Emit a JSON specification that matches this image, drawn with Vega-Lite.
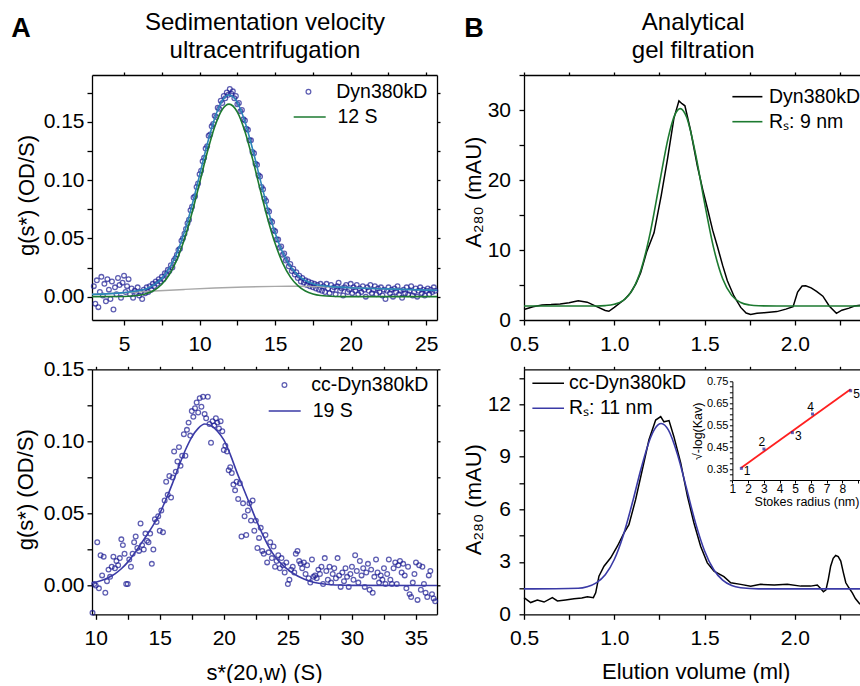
{
"$schema":"https://vega.github.io/schema/vega-lite/v6.json",
"padding":{"left":10,"top":10,"right":0,"bottom":0},
"bounds":"flush",
"columns":2,
"spacing":{"row":49.3,"column":87},
"config":{
 "font":"Liberation Sans",
 "view":{"stroke":null},
 "axis":{"grid":false,"domainColor":"#000","domainWidth":1.3,"tickColor":"#000","tickWidth":1.3,"tickSize":5,"labelColor":"#000","labelFontSize":21,"labelFlush":false,"labelOverlap":false,"labelPadding":3,"titleColor":"#000","titleFontSize":22,"titleFontWeight":"normal"},
 "legend":{"labelColor":"#000","labelFontSize":19.5,"padding":0}
},
"resolve":{"scale":{"color":"independent"},"legend":{"color":"independent"}},
"concat":[
 {"width":345,"height":245,
  "layer":[
   {"data":{"values":[
{"s":3.0,"g":0.009},{"s":3.1,"g":-0.006},{"s":3.2,"g":0.014},{"s":3.3,"g":-0.009},{"s":3.4,"g":0.004},{"s":3.5,"g":0.017},{"s":3.6,"g":0.001},{"s":3.7,"g":0.011},{"s":3.8,"g":-0.004},{"s":3.9,"g":0.015},
{"s":4.0,"g":0.006},{"s":4.1,"g":-0.002},{"s":4.2,"g":0.013},{"s":4.3,"g":-0.011},{"s":4.4,"g":0.008},{"s":4.5,"g":0.002},{"s":4.6,"g":0.016},{"s":4.7,"g":0.010},{"s":4.8,"g":-0.001},{"s":4.9,"g":0.012},
{"s":5.0,"g":0.018},{"s":5.1,"g":0.004},{"s":5.2,"g":0.009},{"s":5.3,"g":0.015},{"s":5.4,"g":0.002},{"s":5.5,"g":0.007},{"s":5.6,"g":-0.001},{"s":5.7,"g":0.005},{"s":5.8,"g":0.003},{"s":5.9,"g":0.008},
{"s":6.0,"g":0.001},{"s":6.1,"g":0.004},{"s":6.2,"g":-0.002},{"s":6.3,"g":0.006},{"s":6.4,"g":0.003},{"s":6.5,"g":0.008},{"s":6.6,"g":0.004},{"s":6.7,"g":0.009},{"s":6.8,"g":0.006},{"s":6.9,"g":0.011},
{"s":7.0,"g":0.009},{"s":7.1,"g":0.013},{"s":7.2,"g":0.011},{"s":7.3,"g":0.015},{"s":7.4,"g":0.013},{"s":7.5,"g":0.017},{"s":7.6,"g":0.015},{"s":7.7,"g":0.020},{"s":7.8,"g":0.019},{"s":7.9,"g":0.023},
{"s":8.0,"g":0.022},{"s":8.1,"g":0.027},{"s":8.2,"g":0.025},{"s":8.3,"g":0.031},{"s":8.4,"g":0.033},{"s":8.5,"g":0.036},{"s":8.6,"g":0.040},{"s":8.7,"g":0.041},{"s":8.8,"g":0.048},{"s":8.9,"g":0.050},
{"s":9.0,"g":0.054},{"s":9.1,"g":0.058},{"s":9.2,"g":0.063},{"s":9.3,"g":0.066},{"s":9.4,"g":0.074},{"s":9.5,"g":0.077},{"s":9.6,"g":0.085},{"s":9.7,"g":0.086},{"s":9.8,"g":0.094},{"s":9.9,"g":0.097},
{"s":10.0,"g":0.105},{"s":10.1,"g":0.108},{"s":10.2,"g":0.116},{"s":10.3,"g":0.119},{"s":10.4,"g":0.127},{"s":10.5,"g":0.129},{"s":10.6,"g":0.138},{"s":10.7,"g":0.139},{"s":10.8,"g":0.146},{"s":10.9,"g":0.148},
{"s":11.0,"g":0.155},{"s":11.1,"g":0.154},{"s":11.2,"g":0.162},{"s":11.3,"g":0.161},{"s":11.4,"g":0.168},{"s":11.5,"g":0.166},{"s":11.6,"g":0.172},{"s":11.7,"g":0.170},{"s":11.8,"g":0.175},{"s":11.9,"g":0.173},
{"s":12.0,"g":0.178},{"s":12.1,"g":0.174},{"s":12.2,"g":0.176},{"s":12.3,"g":0.170},{"s":12.4,"g":0.172},{"s":12.5,"g":0.165},{"s":12.6,"g":0.166},{"s":12.7,"g":0.159},{"s":12.8,"g":0.160},{"s":12.9,"g":0.152},
{"s":13.0,"g":0.151},{"s":13.1,"g":0.144},{"s":13.2,"g":0.143},{"s":13.3,"g":0.134},{"s":13.4,"g":0.134},{"s":13.5,"g":0.124},{"s":13.6,"g":0.123},{"s":13.7,"g":0.114},{"s":13.8,"g":0.113},{"s":13.9,"g":0.104},
{"s":14.0,"g":0.103},{"s":14.1,"g":0.094},{"s":14.2,"g":0.092},{"s":14.3,"g":0.084},{"s":14.4,"g":0.082},{"s":14.5,"g":0.074},{"s":14.6,"g":0.073},{"s":14.7,"g":0.065},{"s":14.8,"g":0.064},{"s":14.9,"g":0.057},
{"s":15.0,"g":0.056},{"s":15.1,"g":0.049},{"s":15.2,"g":0.049},{"s":15.3,"g":0.042},{"s":15.4,"g":0.043},{"s":15.5,"g":0.036},{"s":15.6,"g":0.037},{"s":15.7,"g":0.031},{"s":15.8,"g":0.032},{"s":15.9,"g":0.026},
{"s":16.0,"g":0.028},{"s":16.1,"g":0.022},{"s":16.2,"g":0.024},{"s":16.3,"g":0.019},{"s":16.4,"g":0.021},{"s":16.5,"g":0.016},{"s":16.6,"g":0.018},{"s":16.7,"g":0.013},{"s":16.8,"g":0.016},{"s":16.9,"g":0.012},
{"s":17.0,"g":0.014},{"s":17.1,"g":0.010},{"s":17.2,"g":0.013},{"s":17.3,"g":0.009},{"s":17.4,"g":0.012},{"s":17.5,"g":0.008},{"s":17.6,"g":0.011},{"s":17.7,"g":0.007},{"s":17.8,"g":0.010},{"s":17.9,"g":0.006},
{"s":18.0,"g":0.011},{"s":18.1,"g":0.005},{"s":18.2,"g":0.009},{"s":18.3,"g":0.004},{"s":18.4,"g":0.011},{"s":18.5,"g":0.007},{"s":18.6,"g":0.003},{"s":18.7,"g":0.010},{"s":18.8,"g":0.006},{"s":18.9,"g":0.008},
{"s":19.0,"g":0.002},{"s":19.1,"g":0.009},{"s":19.2,"g":0.012},{"s":19.3,"g":0.005},{"s":19.4,"g":0.007},{"s":19.5,"g":0.001},{"s":19.6,"g":0.008},{"s":19.7,"g":0.010},{"s":19.8,"g":0.004},{"s":19.9,"g":0.006},
{"s":20.0,"g":0.011},{"s":20.1,"g":0.003},{"s":20.2,"g":0.008},{"s":20.3,"g":0.005},{"s":20.4,"g":0.010},{"s":20.5,"g":0.002},{"s":20.6,"g":0.007},{"s":20.7,"g":0.004},{"s":20.8,"g":0.009},{"s":20.9,"g":0.006},
{"s":21.0,"g":0.000},{"s":21.1,"g":0.008},{"s":21.2,"g":0.005},{"s":21.3,"g":0.010},{"s":21.4,"g":0.003},{"s":21.5,"g":0.006},{"s":21.6,"g":0.009},{"s":21.7,"g":0.002},{"s":21.8,"g":0.007},{"s":21.9,"g":0.004},
{"s":22.0,"g":0.008},{"s":22.1,"g":0.001},{"s":22.2,"g":0.006},{"s":22.3,"g":-0.002},{"s":22.4,"g":0.005},{"s":22.5,"g":0.008},{"s":22.6,"g":0.003},{"s":22.7,"g":0.006},{"s":22.8,"g":0.000},{"s":22.9,"g":0.007},
{"s":23.0,"g":0.004},{"s":23.1,"g":0.009},{"s":23.2,"g":0.002},{"s":23.3,"g":0.005},{"s":23.4,"g":-0.001},{"s":23.5,"g":0.006},{"s":23.6,"g":0.003},{"s":23.7,"g":0.008},{"s":23.8,"g":0.002},{"s":23.9,"g":0.005},
{"s":24.0,"g":0.009},{"s":24.1,"g":0.001},{"s":24.2,"g":0.004},{"s":24.3,"g":0.007},{"s":24.4,"g":0.000},{"s":24.5,"g":0.005},{"s":24.6,"g":0.008},{"s":24.7,"g":0.003},{"s":24.8,"g":0.006},{"s":24.9,"g":0.001},
{"s":25.0,"g":0.005},{"s":25.1,"g":0.007},{"s":25.2,"g":0.002},{"s":25.3,"g":0.006},{"s":25.4,"g":0.004},{"s":25.5,"g":0.008},{"s":25.6,"g":0.005}
   ]},
    "mark":{"type":"point","filled":false,"size":22,"strokeWidth":1.3},
    "encoding":{
     "x":{"field":"s","type":"quantitative","scale":{"domain":[2.88,25.71],"nice":false,"zero":false},
      "axis":{"orient":"bottom","values":[5,7.5,10,12.5,15,17.5,20,22.5,25],"labelExpr":"datum.value % 5 == 0 ? datum.label : ''","title":null,"labelPadding":8}},
     "y":{"field":"g","type":"quantitative","scale":{"domain":[-0.02,0.19],"nice":false,"zero":false},
      "axis":{"orient":"left","values":[0,0.025,0.05,0.075,0.1,0.125,0.15,0.175],"labelExpr":"round(datum.value*1000) % 50 == 0 ? format(datum.value,'.2f') : ''","title":"g(s*) (OD/S)","titleX":-65.3,"titleY":120,"titleBaseline":"middle","titleAngle":-90}},
     "color":{"datum":"Dyn380kD","type":"nominal","scale":{"domain":["Dyn380kD"],"range":["#1a1a92"]},
      "legend":{"orient":"none","legendX":206.7,"legendY":7,"title":null,"symbolType":"circle","symbolSize":22,"symbolStrokeWidth":1.3,"labelOffset":18}}
    }},
   {"data":{"values":[{"s":2.88,"g":0.002},{"s":5,"g":0.0033},{"s":7,"g":0.0048},{"s":9,"g":0.0062},{"s":11,"g":0.0074},{"s":13,"g":0.0083},{"s":15,"g":0.0088},{"s":16.5,"g":0.0089},{"s":18,"g":0.0085},{"s":20,"g":0.0077},{"s":22,"g":0.0068},{"s":24,"g":0.006},{"s":25.71,"g":0.0054}]},
    "mark":{"type":"line","color":"#a8a8a8","strokeWidth":1.4,"interpolate":"monotone"},
    "encoding":{"x":{"field":"s","type":"quantitative","axis":null},
     "y":{"field":"g","type":"quantitative","axis":{"orient":"left","domain":false,"ticks":false,"labels":false,"title":"A","titleAngle":0,"titleX":-81.3,"titleY":-38.3,"titleAlign":"left","titleBaseline":"alphabetic","titleFontSize":27,"titleFontWeight":"bold"}}}},
   {"data":{"values":[{"s":2.88,"g":0.002},{"s":5,"g":0.0035},{"s":6,"g":0.0053},{"s":6.5,"g":0.0068},{"s":7,"g":0.0103},{"s":7.5,"g":0.0157},{"s":8,"g":0.0245},{"s":8.5,"g":0.0375},{"s":9,"g":0.0556},{"s":9.5,"g":0.0785},{"s":10,"g":0.1042},{"s":10.5,"g":0.1304},{"s":11,"g":0.153},{"s":11.5,"g":0.168},{"s":11.95,"g":0.1728},{"s":12.5,"g":0.1663},{"s":13,"g":0.15},{"s":13.5,"g":0.1269},{"s":14,"g":0.101},{"s":14.5,"g":0.0759},{"s":15,"g":0.0545},{"s":15.5,"g":0.0378},{"s":16,"g":0.0262},{"s":16.5,"g":0.0185},{"s":17,"g":0.0138},{"s":17.5,"g":0.011},{"s":18,"g":0.0095},{"s":19,"g":0.0084},{"s":20,"g":0.0077},{"s":22,"g":0.0068},{"s":24,"g":0.006},{"s":25.71,"g":0.0054}]},
    "mark":{"type":"line","color":"#2b86b8","strokeWidth":1.6,"interpolate":"monotone"},
    "encoding":{"x":{"field":"s","type":"quantitative","axis":{"orient":"top","values":[5,7.5,10,12.5,15,17.5,20,22.5,25],"labels":false,"tickSize":3,"title":["Sedimentation velocity","ultracentrifugation"],"titleX":172.5,"titleY":-45.7,"titleAlign":"center","titleBaseline":"alphabetic","titleAngle":0,"titleFontSize":24,"titleLineHeight":28.4}},
     "y":{"field":"g","type":"quantitative","axis":{"orient":"right","values":[0,0.025,0.05,0.075,0.1,0.125,0.15,0.175],"labels":false,"tickSize":3,"title":null}}}},
   {"data":{"values":[{"s":2.88,"g":0},{"s":5,"g":0.0002},{"s":6,"g":0.0012},{"s":6.5,"g":0.0027},{"s":7,"g":0.0055},{"s":7.5,"g":0.0106},{"s":8,"g":0.019},{"s":8.5,"g":0.0317},{"s":9,"g":0.0494},{"s":9.5,"g":0.0719},{"s":10,"g":0.0974},{"s":10.5,"g":0.1233},{"s":11,"g":0.1456},{"s":11.5,"g":0.1604},{"s":11.95,"g":0.165},{"s":12.5,"g":0.1582},{"s":13,"g":0.1416},{"s":13.5,"g":0.1183},{"s":14,"g":0.0922},{"s":14.5,"g":0.067},{"s":15,"g":0.0455},{"s":15.5,"g":0.0288},{"s":16,"g":0.017},{"s":16.5,"g":0.0094},{"s":17,"g":0.0048},{"s":17.5,"g":0.0023},{"s":18,"g":0.001},{"s":19,"g":0.0002},{"s":20,"g":0},{"s":25.71,"g":0}]},
    "mark":{"type":"line","strokeWidth":1.6,"interpolate":"monotone"},
    "encoding":{"x":{"field":"s","type":"quantitative","axis":null},"y":{"field":"g","type":"quantitative","axis":null},
     "color":{"datum":"12 S","type":"nominal","scale":{"domain":["12 S"],"range":["#1d7a30"]},
      "legend":{"orient":"none","legendX":200.7,"legendY":25,"title":null,"symbolType":"stroke","symbolSize":1024,"symbolStrokeWidth":1.6,"labelOffset":10.8}}}}
  ],
  "resolve":{"scale":{"color":"independent"},"axis":{"x":"independent","y":"independent"},"legend":{"color":"independent"}}
 },
 {"width":336,"height":245,
  "layer":[
   {"data":{"values":[{"v":0.5,"a":1.5},{"v":0.55,"a":1.9},{"v":0.6,"a":2.15},{"v":0.65,"a":2.2},{"v":0.7,"a":2.3},{"v":0.75,"a":2.45},{"v":0.8,"a":2.75},{"v":0.85,"a":2.55},{"v":0.9,"a":1.95},{"v":0.95,"a":1.35},{"v":0.97,"a":1.25},{"v":1.0,"a":1.8},{"v":1.035,"a":2.5},{"v":1.06,"a":3.0},{"v":1.09,"a":3.9},{"v":1.12,"a":5.2},{"v":1.146,"a":6.75},{"v":1.18,"a":9.8},{"v":1.22,"a":12.45},{"v":1.26,"a":17.8},{"v":1.294,"a":22.9},{"v":1.33,"a":28.8},{"v":1.358,"a":31.3},{"v":1.375,"a":30.9},{"v":1.391,"a":30.6},{"v":1.423,"a":27.0},{"v":1.46,"a":22.0},{"v":1.49,"a":18.6},{"v":1.515,"a":16.0},{"v":1.545,"a":12.8},{"v":1.571,"a":10.5},{"v":1.6,"a":7.8},{"v":1.626,"a":5.6},{"v":1.663,"a":3.4},{"v":1.7,"a":1.8},{"v":1.73,"a":1.0},{"v":1.755,"a":0.8},{"v":1.79,"a":0.95},{"v":1.83,"a":1.05},{"v":1.9,"a":1.2},{"v":1.95,"a":1.55},{"v":1.99,"a":1.9},{"v":2.015,"a":4.0},{"v":2.04,"a":4.85},{"v":2.06,"a":4.9},{"v":2.09,"a":4.6},{"v":2.12,"a":4.1},{"v":2.155,"a":3.4},{"v":2.19,"a":2.0},{"v":2.23,"a":0.95},{"v":2.26,"a":1.4},{"v":2.3,"a":1.7},{"v":2.33,"a":2.0},{"v":2.3605,"a":2.1}]},
    "mark":{"type":"line","strokeWidth":1.5},
    "encoding":{
     "x":{"field":"v","type":"quantitative","scale":{"domain":[0.5,2.3605],"nice":false,"zero":false},
      "axis":{"orient":"bottom","values":[0.5,0.75,1,1.25,1.5,1.75,2,2.25],"labelExpr":"round(datum.value*100) % 50 == 0 ? format(datum.value,'.1f') : ''","title":null,"labelPadding":8}},
     "y":{"field":"a","type":"quantitative","scale":{"domain":[0,35],"nice":false,"zero":false},
      "axis":{"orient":"left","values":[0,5,10,15,20,25,30,35],"labelExpr":"datum.value % 10 == 0 ? datum.label : ''","labelPadding":8.5,"title":"A₂₈₀ (mAU)","titleX":-50.3,"titleY":116.7,"titleBaseline":"middle","titleAngle":-90}},
     "color":{"datum":"Dyn380kD","type":"nominal","scale":{"domain":["Dyn380kD"],"range":["#000000"]},
      "legend":{"orient":"none","legendX":207.4,"legendY":5.7,"title":null,"symbolType":"stroke","symbolSize":900,"symbolStrokeWidth":1.6,"labelOffset":5.6}}
    }},
   {"data":{"values":[{"v":0.5,"a":2.0},{"v":0.9,"a":2.01},{"v":0.95,"a":2.06},{"v":1.0,"a":2.24},{"v":1.05,"a":2.8},{"v":1.1,"a":4.27},{"v":1.15,"a":7.36},{"v":1.2,"a":12.6},{"v":1.25,"a":19.5},{"v":1.3,"a":26.2},{"v":1.335,"a":29.3},{"v":1.365,"a":30.2},{"v":1.4,"a":29.0},{"v":1.45,"a":23.7},{"v":1.5,"a":16.7},{"v":1.55,"a":10.3},{"v":1.6,"a":5.9},{"v":1.65,"a":3.52},{"v":1.7,"a":2.5},{"v":1.75,"a":2.14},{"v":1.8,"a":2.03},{"v":1.9,"a":2.0},{"v":2.3605,"a":2.0}]},
    "mark":{"type":"line","strokeWidth":1.6,"interpolate":"monotone"},
    "encoding":{
     "x":{"field":"v","type":"quantitative","axis":{"orient":"top","values":[0.5,0.75,1,1.25,1.5,1.75,2,2.25],"labels":false,"tickSize":3,"title":["Analytical","gel filtration"],"titleX":168.7,"titleY":-45.7,"titleAlign":"center","titleBaseline":"alphabetic","titleAngle":0,"titleFontSize":24,"titleLineHeight":28.4}},
     "y":{"field":"a","type":"quantitative","axis":{"orient":"left","domain":false,"ticks":false,"labels":false,"title":"B","titleAngle":0,"titleX":-60.3,"titleY":-39,"titleAlign":"left","titleBaseline":"alphabetic","titleFontSize":27,"titleFontWeight":"bold"}},
     "color":{"datum":"Rₛ: 9 nm","type":"nominal","scale":{"domain":["Rₛ: 9 nm"],"range":["#1d7a30"]},
      "legend":{"orient":"none","legendX":207.4,"legendY":30.7,"title":null,"symbolType":"stroke","symbolSize":900,"symbolStrokeWidth":1.6,"labelOffset":5.6}}
    }}
  ],
  "resolve":{"scale":{"color":"independent"},"axis":{"x":"independent","y":"independent"},"legend":{"color":"independent"}}
 },
 {"width":345,"height":245,
  "layer":[
   {"data":{"values":[
{"s":9.75,"g":-0.019},{"s":9.88,"g":0.001},
{"s":10.0,"g":0.000},{"s":10.12,"g":0.030},{"s":10.25,"g":-0.002},{"s":10.38,"g":0.021},{"s":10.5,"g":0.007},{"s":10.62,"g":0.020},{"s":10.75,"g":-0.005},{"s":10.88,"g":0.003},
{"s":11.0,"g":0.011},{"s":11.12,"g":0.006},{"s":11.25,"g":0.013},{"s":11.38,"g":0.020},{"s":11.5,"g":0.012},{"s":11.62,"g":0.017},{"s":11.75,"g":0.014},{"s":11.88,"g":0.019},
{"s":12.0,"g":0.032},{"s":12.12,"g":0.028},{"s":12.25,"g":0.022},{"s":12.38,"g":0.001},{"s":12.5,"g":0.001},{"s":12.62,"g":0.018},{"s":12.75,"g":0.013},{"s":12.88,"g":0.022},
{"s":13.0,"g":0.030},{"s":13.12,"g":0.034},{"s":13.25,"g":0.026},{"s":13.38,"g":0.024},{"s":13.5,"g":0.043},{"s":13.62,"g":0.028},{"s":13.75,"g":0.025},{"s":13.88,"g":0.036},
{"s":14.0,"g":0.031},{"s":14.12,"g":0.030},{"s":14.25,"g":0.036},{"s":14.38,"g":0.015},{"s":14.5,"g":0.025},{"s":14.62,"g":0.046},{"s":14.75,"g":0.044},{"s":14.88,"g":0.048},
{"s":15.0,"g":0.038},{"s":15.12,"g":0.052},{"s":15.25,"g":0.037},{"s":15.38,"g":0.059},{"s":15.5,"g":0.072},{"s":15.62,"g":0.063},{"s":15.75,"g":0.076},{"s":15.88,"g":0.061},
{"s":16.0,"g":0.075},{"s":16.12,"g":0.093},{"s":16.25,"g":0.079},{"s":16.38,"g":0.086},{"s":16.5,"g":0.096},{"s":16.62,"g":0.083},{"s":16.75,"g":0.090},{"s":16.88,"g":0.105},
{"s":17.0,"g":0.090},{"s":17.12,"g":0.108},{"s":17.25,"g":0.113},{"s":17.38,"g":0.104},{"s":17.5,"g":0.121},{"s":17.62,"g":0.117},{"s":17.75,"g":0.123},{"s":17.88,"g":0.127},
{"s":18.0,"g":0.120},{"s":18.12,"g":0.130},{"s":18.25,"g":0.124},{"s":18.38,"g":0.131},{"s":18.5,"g":0.119},{"s":18.62,"g":0.116},{"s":18.75,"g":0.131},{"s":18.88,"g":0.112},
{"s":19.0,"g":0.099},{"s":19.12,"g":0.114},{"s":19.25,"g":0.111},{"s":19.38,"g":0.116},{"s":19.5,"g":0.113},{"s":19.62,"g":0.109},{"s":19.75,"g":0.114},{"s":19.88,"g":0.107},
{"s":20.0,"g":0.094},{"s":20.12,"g":0.097},{"s":20.25,"g":0.093},{"s":20.38,"g":0.080},{"s":20.5,"g":0.082},{"s":20.62,"g":0.078},{"s":20.75,"g":0.070},{"s":20.88,"g":0.066},
{"s":21.0,"g":0.072},{"s":21.12,"g":0.060},{"s":21.25,"g":0.071},{"s":21.38,"g":0.034},{"s":21.5,"g":0.057},{"s":21.62,"g":0.048},{"s":21.75,"g":0.035},{"s":21.88,"g":0.052},
{"s":22.0,"g":0.057},{"s":22.12,"g":0.045},{"s":22.25,"g":0.059},{"s":22.38,"g":0.038},{"s":22.5,"g":0.045},{"s":22.62,"g":0.026},{"s":22.75,"g":0.033},{"s":22.88,"g":0.040},
{"s":23.0,"g":0.024},{"s":23.12,"g":0.022},{"s":23.25,"g":0.035},{"s":23.38,"g":0.016},{"s":23.5,"g":0.023},{"s":23.62,"g":0.030},{"s":23.75,"g":0.019},{"s":23.88,"g":0.027},
{"s":24.0,"g":0.013},{"s":24.12,"g":0.017},{"s":24.25,"g":0.021},{"s":24.38,"g":0.012},{"s":24.5,"g":0.019},{"s":24.62,"g":0.014},{"s":24.75,"g":0.009},{"s":24.88,"g":0.016},
{"s":25.0,"g":0.001},{"s":25.12,"g":0.004},{"s":25.25,"g":0.011},{"s":25.38,"g":0.013},{"s":25.5,"g":0.009},{"s":25.62,"g":0.022},{"s":25.75,"g":0.024},{"s":25.88,"g":0.017},
{"s":26.0,"g":0.015},{"s":26.12,"g":0.012},{"s":26.25,"g":0.016},{"s":26.38,"g":0.008},{"s":26.5,"g":0.014},{"s":26.62,"g":0.005},{"s":26.75,"g":0.002},{"s":26.88,"g":0.018},
{"s":27.0,"g":0.006},{"s":27.12,"g":0.007},{"s":27.25,"g":0.005},{"s":27.38,"g":0.011},{"s":27.5,"g":0.008},{"s":27.62,"g":0.013},{"s":27.75,"g":0.001},{"s":27.88,"g":0.019},
{"s":28.0,"g":0.010},{"s":28.12,"g":0.004},{"s":28.25,"g":0.013},{"s":28.38,"g":0.002},{"s":28.5,"g":0.008},{"s":28.62,"g":0.012},{"s":28.75,"g":0.005},{"s":28.88,"g":0.019},
{"s":29.0,"g":0.007},{"s":29.12,"g":-0.001},{"s":29.25,"g":0.009},{"s":29.38,"g":0.003},{"s":29.5,"g":0.012},{"s":29.62,"g":0.006},{"s":29.75,"g":-0.001},{"s":29.88,"g":0.008},
{"s":30.0,"g":0.013},{"s":30.12,"g":0.004},{"s":30.25,"g":0.021},{"s":30.38,"g":0.010},{"s":30.5,"g":0.002},{"s":30.62,"g":0.017},{"s":30.75,"g":0.007},{"s":30.88,"g":0.012},
{"s":31.0,"g":-0.001},{"s":31.12,"g":0.009},{"s":31.25,"g":0.015},{"s":31.38,"g":-0.003},{"s":31.5,"g":0.011},{"s":31.62,"g":-0.005},{"s":31.75,"g":0.006},{"s":31.88,"g":0.018},
{"s":32.0,"g":0.009},{"s":32.12,"g":0.002},{"s":32.25,"g":0.007},{"s":32.38,"g":0.004},{"s":32.5,"g":0.012},{"s":32.62,"g":0.001},{"s":32.75,"g":0.008},{"s":32.88,"g":0.018},
{"s":33.0,"g":0.004},{"s":33.12,"g":0.001},{"s":33.25,"g":0.012},{"s":33.38,"g":0.016},{"s":33.5,"g":0.001},{"s":33.62,"g":0.014},{"s":33.75,"g":0.017},{"s":33.88,"g":0.009},
{"s":34.0,"g":0.015},{"s":34.12,"g":0.007},{"s":34.25,"g":-0.002},{"s":34.38,"g":0.013},{"s":34.5,"g":-0.006},{"s":34.62,"g":-0.008},{"s":34.75,"g":0.002},{"s":34.88,"g":0.008},
{"s":35.0,"g":0.016},{"s":35.12,"g":-0.010},{"s":35.25,"g":0.014},{"s":35.38,"g":-0.003},{"s":35.5,"g":0.013},{"s":35.62,"g":0.001},{"s":35.75,"g":-0.005},{"s":35.88,"g":-0.008},
{"s":36.0,"g":0.007},{"s":36.12,"g":0.010},{"s":36.25,"g":-0.006},{"s":36.38,"g":-0.009},{"s":36.5,"g":-0.011}
   ]},
    "mark":{"type":"point","filled":false,"size":22,"strokeWidth":1.3},
    "encoding":{
     "x":{"field":"s","type":"quantitative","scale":{"domain":[9.71,36.64],"nice":false,"zero":false},
      "axis":{"orient":"bottom","values":[10,12.5,15,17.5,20,22.5,25,27.5,30,32.5,35],"labelExpr":"datum.value % 5 == 0 ? datum.label : ''","labelPadding":8,"title":"s*(20,w) (S)","titleX":172,"titleY":57.7,"titleBaseline":"middle","titleAlign":"center"}},
     "y":{"field":"g","type":"quantitative","scale":{"domain":[-0.02,0.15],"nice":false,"zero":false},
      "axis":{"orient":"left","values":[0,0.025,0.05,0.075,0.1,0.125,0.15],"labelExpr":"round(datum.value*1000) % 50 == 0 ? format(datum.value,'.2f') : ''","title":"g(s*) (OD/S)","titleX":-66.6,"titleY":119.9,"titleBaseline":"middle","titleAngle":-90}},
     "color":{"datum":"cc-Dyn380kD","type":"nominal","scale":{"domain":["cc-Dyn380kD"],"range":["#1a1a92"]},
      "legend":{"orient":"none","legendX":182.7,"legendY":6,"title":null,"symbolType":"circle","symbolSize":22,"symbolStrokeWidth":1.3,"labelOffset":17}}
    }},
   {"data":{"values":[{"s":9.71,"g":0.0018},{"s":10,"g":0.0023},{"s":10.5,"g":0.0036},{"s":11,"g":0.0055},{"s":11.5,"g":0.0081},{"s":12,"g":0.0116},{"s":12.5,"g":0.0162},{"s":13,"g":0.022},{"s":13.5,"g":0.0285},{"s":14,"g":0.035},{"s":14.5,"g":0.042},{"s":15,"g":0.05},{"s":15.5,"g":0.06},{"s":16,"g":0.071},{"s":16.5,"g":0.083},{"s":17,"g":0.094},{"s":17.5,"g":0.103},{"s":18,"g":0.109},{"s":18.5,"g":0.112},{"s":19,"g":0.111},{"s":19.5,"g":0.107},{"s":20,"g":0.101},{"s":20.5,"g":0.091},{"s":21,"g":0.079},{"s":21.5,"g":0.068},{"s":22,"g":0.057},{"s":22.5,"g":0.046},{"s":23,"g":0.036},{"s":23.5,"g":0.027},{"s":24,"g":0.02},{"s":24.5,"g":0.015},{"s":25,"g":0.011},{"s":25.5,"g":0.008},{"s":26,"g":0.0055},{"s":26.5,"g":0.0036},{"s":27,"g":0.0023},{"s":28,"g":0.0009},{"s":29,"g":0.0003},{"s":30,"g":0.0001},{"s":36.64,"g":0}]},
    "mark":{"type":"line","strokeWidth":1.6,"interpolate":"monotone"},
    "encoding":{
     "x":{"field":"s","type":"quantitative","axis":{"orient":"top","values":[10,12.5,15,17.5,20,22.5,25,27.5,30,32.5,35],"labels":false,"tickSize":3,"title":null}},
     "y":{"field":"g","type":"quantitative","axis":{"orient":"right","values":[0,0.025,0.05,0.075,0.1,0.125,0.15],"labels":false,"tickSize":3,"title":null}},
     "color":{"datum":"19 S","type":"nominal","scale":{"domain":["19 S"],"range":["#3a3aa6"]},
      "legend":{"orient":"none","legendX":175.7,"legendY":24.7,"title":null,"symbolType":"stroke","symbolSize":1024,"symbolStrokeWidth":1.6,"labelOffset":11}}
    }}
  ],
  "resolve":{"scale":{"color":"independent"},"axis":{"x":"independent","y":"independent"},"legend":{"color":"independent"}}
 },
 {"width":336,"height":245,
  "layer":[
   {"data":{"values":[{"v":0.5,"a":0.95},{"v":0.537,"a":0.67},{"v":0.574,"a":0.81},{"v":0.611,"a":0.7},{"v":0.657,"a":0.95},{"v":0.685,"a":0.76},{"v":0.73,"a":0.82},{"v":0.777,"a":0.89},{"v":0.82,"a":0.93},{"v":0.851,"a":1.0},{"v":0.884,"a":0.95},{"v":0.897,"a":1.23},{"v":0.915,"a":2.18},{"v":0.943,"a":2.75},{"v":0.98,"a":3.23},{"v":1.017,"a":3.89},{"v":1.054,"a":4.65},{"v":1.081,"a":5.12},{"v":1.118,"a":6.55},{"v":1.155,"a":8.26},{"v":1.192,"a":9.97},{"v":1.229,"a":11.1},{"v":1.257,"a":11.3},{"v":1.275,"a":11.0},{"v":1.303,"a":11.07},{"v":1.33,"a":10.15},{"v":1.368,"a":8.64},{"v":1.405,"a":6.74},{"v":1.441,"a":5.22},{"v":1.478,"a":3.89},{"v":1.515,"a":2.94},{"v":1.552,"a":2.47},{"v":1.607,"a":2.15},{"v":1.645,"a":1.8},{"v":1.7,"a":1.71},{"v":1.755,"a":1.61},{"v":1.81,"a":1.71},{"v":1.886,"a":1.67},{"v":1.958,"a":1.71},{"v":2.032,"a":1.61},{"v":2.087,"a":1.61},{"v":2.124,"a":1.67},{"v":2.145,"a":1.45},{"v":2.158,"a":1.29},{"v":2.172,"a":1.4},{"v":2.185,"a":2.0},{"v":2.198,"a":2.75},{"v":2.212,"a":3.2},{"v":2.226,"a":3.36},{"v":2.24,"a":3.3},{"v":2.254,"a":3.04},{"v":2.268,"a":2.4},{"v":2.282,"a":1.8},{"v":2.3,"a":1.5},{"v":2.318,"a":1.23},{"v":2.335,"a":0.9},{"v":2.346,"a":0.76},{"v":2.3605,"a":0.57}]},
    "mark":{"type":"line","strokeWidth":1.5},
    "encoding":{
     "x":{"field":"v","type":"quantitative","scale":{"domain":[0.5,2.3605],"nice":false,"zero":false},
      "axis":{"orient":"bottom","values":[0.5,0.75,1,1.25,1.5,1.75,2,2.25],"labelExpr":"round(datum.value*100) % 50 == 0 ? format(datum.value,'.1f') : ''","labelPadding":8,"title":"Elution volume (ml)","titleX":171.7,"titleY":56.7,"titleBaseline":"middle","titleAlign":"center"}},
     "y":{"field":"a","type":"quantitative","scale":{"domain":[0,14],"nice":false,"zero":false},
      "axis":{"orient":"left","values":[0,1.5,3,4.5,6,7.5,9,10.5,12,13.5],"labelExpr":"round(datum.value*10) % 30 == 0 ? format(datum.value,'d') : ''","labelPadding":8.5,"title":"A₂₈₀ (mAU)","titleX":-50.3,"titleY":129.9,"titleBaseline":"middle","titleAngle":-90}},
     "color":{"datum":"cc-Dyn380kD","type":"nominal","scale":{"domain":["cc-Dyn380kD"],"range":["#000000"]},
      "legend":{"orient":"none","legendX":7.2,"legendY":-3,"title":null,"symbolType":"stroke","symbolSize":1000,"symbolStrokeWidth":1.6,"labelOffset":3.8}}
    }},
   {"data":{"values":[{"v":0.5,"a":1.45},{"v":0.8,"a":1.49},{"v":0.85,"a":1.58},{"v":0.9,"a":1.8},{"v":0.95,"a":2.26},{"v":1.0,"a":3.13},{"v":1.05,"a":4.52},{"v":1.1,"a":6.37},{"v":1.15,"a":8.39},{"v":1.2,"a":10.07},{"v":1.225,"a":10.61},{"v":1.26,"a":10.9},{"v":1.3,"a":10.52},{"v":1.35,"a":9.13},{"v":1.4,"a":7.19},{"v":1.45,"a":5.21},{"v":1.5,"a":3.62},{"v":1.55,"a":2.56},{"v":1.6,"a":1.95},{"v":1.65,"a":1.64},{"v":1.7,"a":1.52},{"v":1.8,"a":1.455},{"v":2.3605,"a":1.45}]},
    "mark":{"type":"line","strokeWidth":1.6,"interpolate":"monotone"},
    "encoding":{
     "x":{"field":"v","type":"quantitative","scale":{"domain":[0.5,2.3605],"nice":false,"zero":false},"axis":{"orient":"top","values":[0.5,0.75,1,1.25,1.5,1.75,2,2.25],"labels":false,"tickSize":3,"title":null}},
     "y":{"field":"a","type":"quantitative","scale":{"domain":[0,14],"nice":false,"zero":false},"axis":null},
     "color":{"datum":"Rₛ: 11 nm","type":"nominal","scale":{"domain":["Rₛ: 11 nm"],"range":["#3a3aa6"]},
      "legend":{"orient":"none","legendX":7.2,"legendY":22,"title":null,"symbolType":"stroke","symbolSize":1000,"symbolStrokeWidth":1.6,"labelOffset":3.8}}
    }},
   {"data":{"values":[{"r":1.57,"k":0.356},{"r":8.53,"k":0.714}]},
    "mark":{"type":"line","color":"#ff2020","strokeWidth":1.8},
    "encoding":{
     "x":{"field":"r","type":"quantitative","scale":{"domain":[1,9.1],"range":[208.4,335.6],"nice":false,"zero":false},
      "axis":{"orient":"bottom","offset":-134.3,"values":[1,2,3,4,5,6,7,8,9],"labelExpr":"datum.value < 9 ? datum.label : ''","labelFontSize":12,"tickSize":3,"labelPadding":0,"domainWidth":1,"tickWidth":1,"title":"Stokes radius (nm)","titleFontSize":12.5,"titleX":282.5,"titleY":21.7,"titleBaseline":"middle","titleAlign":"center"}},
     "y":{"field":"k","type":"quantitative","scale":{"domain":[0.3,0.75],"range":[110.7,12],"nice":false,"zero":false},
      "axis":{"orient":"left","offset":-208.4,"values":[0.3,0.325,0.35,0.375,0.4,0.425,0.45,0.475,0.5,0.525,0.55,0.575,0.6,0.625,0.65,0.675,0.7,0.725,0.75],"labelExpr":"round(datum.value*1000) % 100 == 50 ? format(datum.value,'.2f') : ''","labelFontSize":11,"tickSize":3,"labelPadding":1.5,"domainWidth":1,"tickWidth":1,"title":"√-log(Kav)","titleFontSize":12.5,"titleX":-35,"titleY":61.5,"titleBaseline":"middle","titleAngle":-90}}
    }},
   {"data":{"values":[{"r":1.57,"k":0.353,"n":"1"},{"r":3.01,"k":0.441,"n":"2"},{"r":4.82,"k":0.516,"n":"3"},{"r":6.1,"k":0.601,"n":"4"},{"r":8.53,"k":0.707,"n":"5"}]},
    "mark":{"type":"square","size":9,"color":"#1c1c96"},
    "encoding":{"x":{"field":"r","type":"quantitative","scale":{"domain":[1,9.1],"range":[208.4,335.6],"nice":false,"zero":false},"axis":null},"y":{"field":"k","type":"quantitative","scale":{"domain":[0.3,0.75],"range":[110.7,12],"nice":false,"zero":false},"axis":null}}},
   {"data":{"values":[{"r":1.57,"k":0.353,"n":"1"},{"r":4.82,"k":0.516,"n":"3"},{"r":8.53,"k":0.707,"n":"5"}]},
    "mark":{"type":"text","align":"left","baseline":"middle","dx":2.5,"dy":3,"fontSize":12,"color":"#000"},
    "encoding":{"x":{"field":"r","type":"quantitative","scale":{"domain":[1,9.1],"range":[208.4,335.6],"nice":false,"zero":false},"axis":null},"y":{"field":"k","type":"quantitative","scale":{"domain":[0.3,0.75],"range":[110.7,12],"nice":false,"zero":false},"axis":null},"text":{"field":"n"}}},
   {"data":{"values":[{"r":3.01,"k":0.441,"n":"2"},{"r":6.1,"k":0.601,"n":"4"}]},
    "mark":{"type":"text","align":"center","baseline":"middle","dx":-2,"dy":-7,"fontSize":12,"color":"#000"},
    "encoding":{"x":{"field":"r","type":"quantitative","scale":{"domain":[1,9.1],"range":[208.4,335.6],"nice":false,"zero":false},"axis":null},"y":{"field":"k","type":"quantitative","scale":{"domain":[0.3,0.75],"range":[110.7,12],"nice":false,"zero":false},"axis":null},"text":{"field":"n"}}}
  ],
  "resolve":{"scale":{"x":"independent","y":"independent","color":"independent"},"axis":{"x":"independent","y":"independent"},"legend":{"color":"independent"}}
 }
]
}
